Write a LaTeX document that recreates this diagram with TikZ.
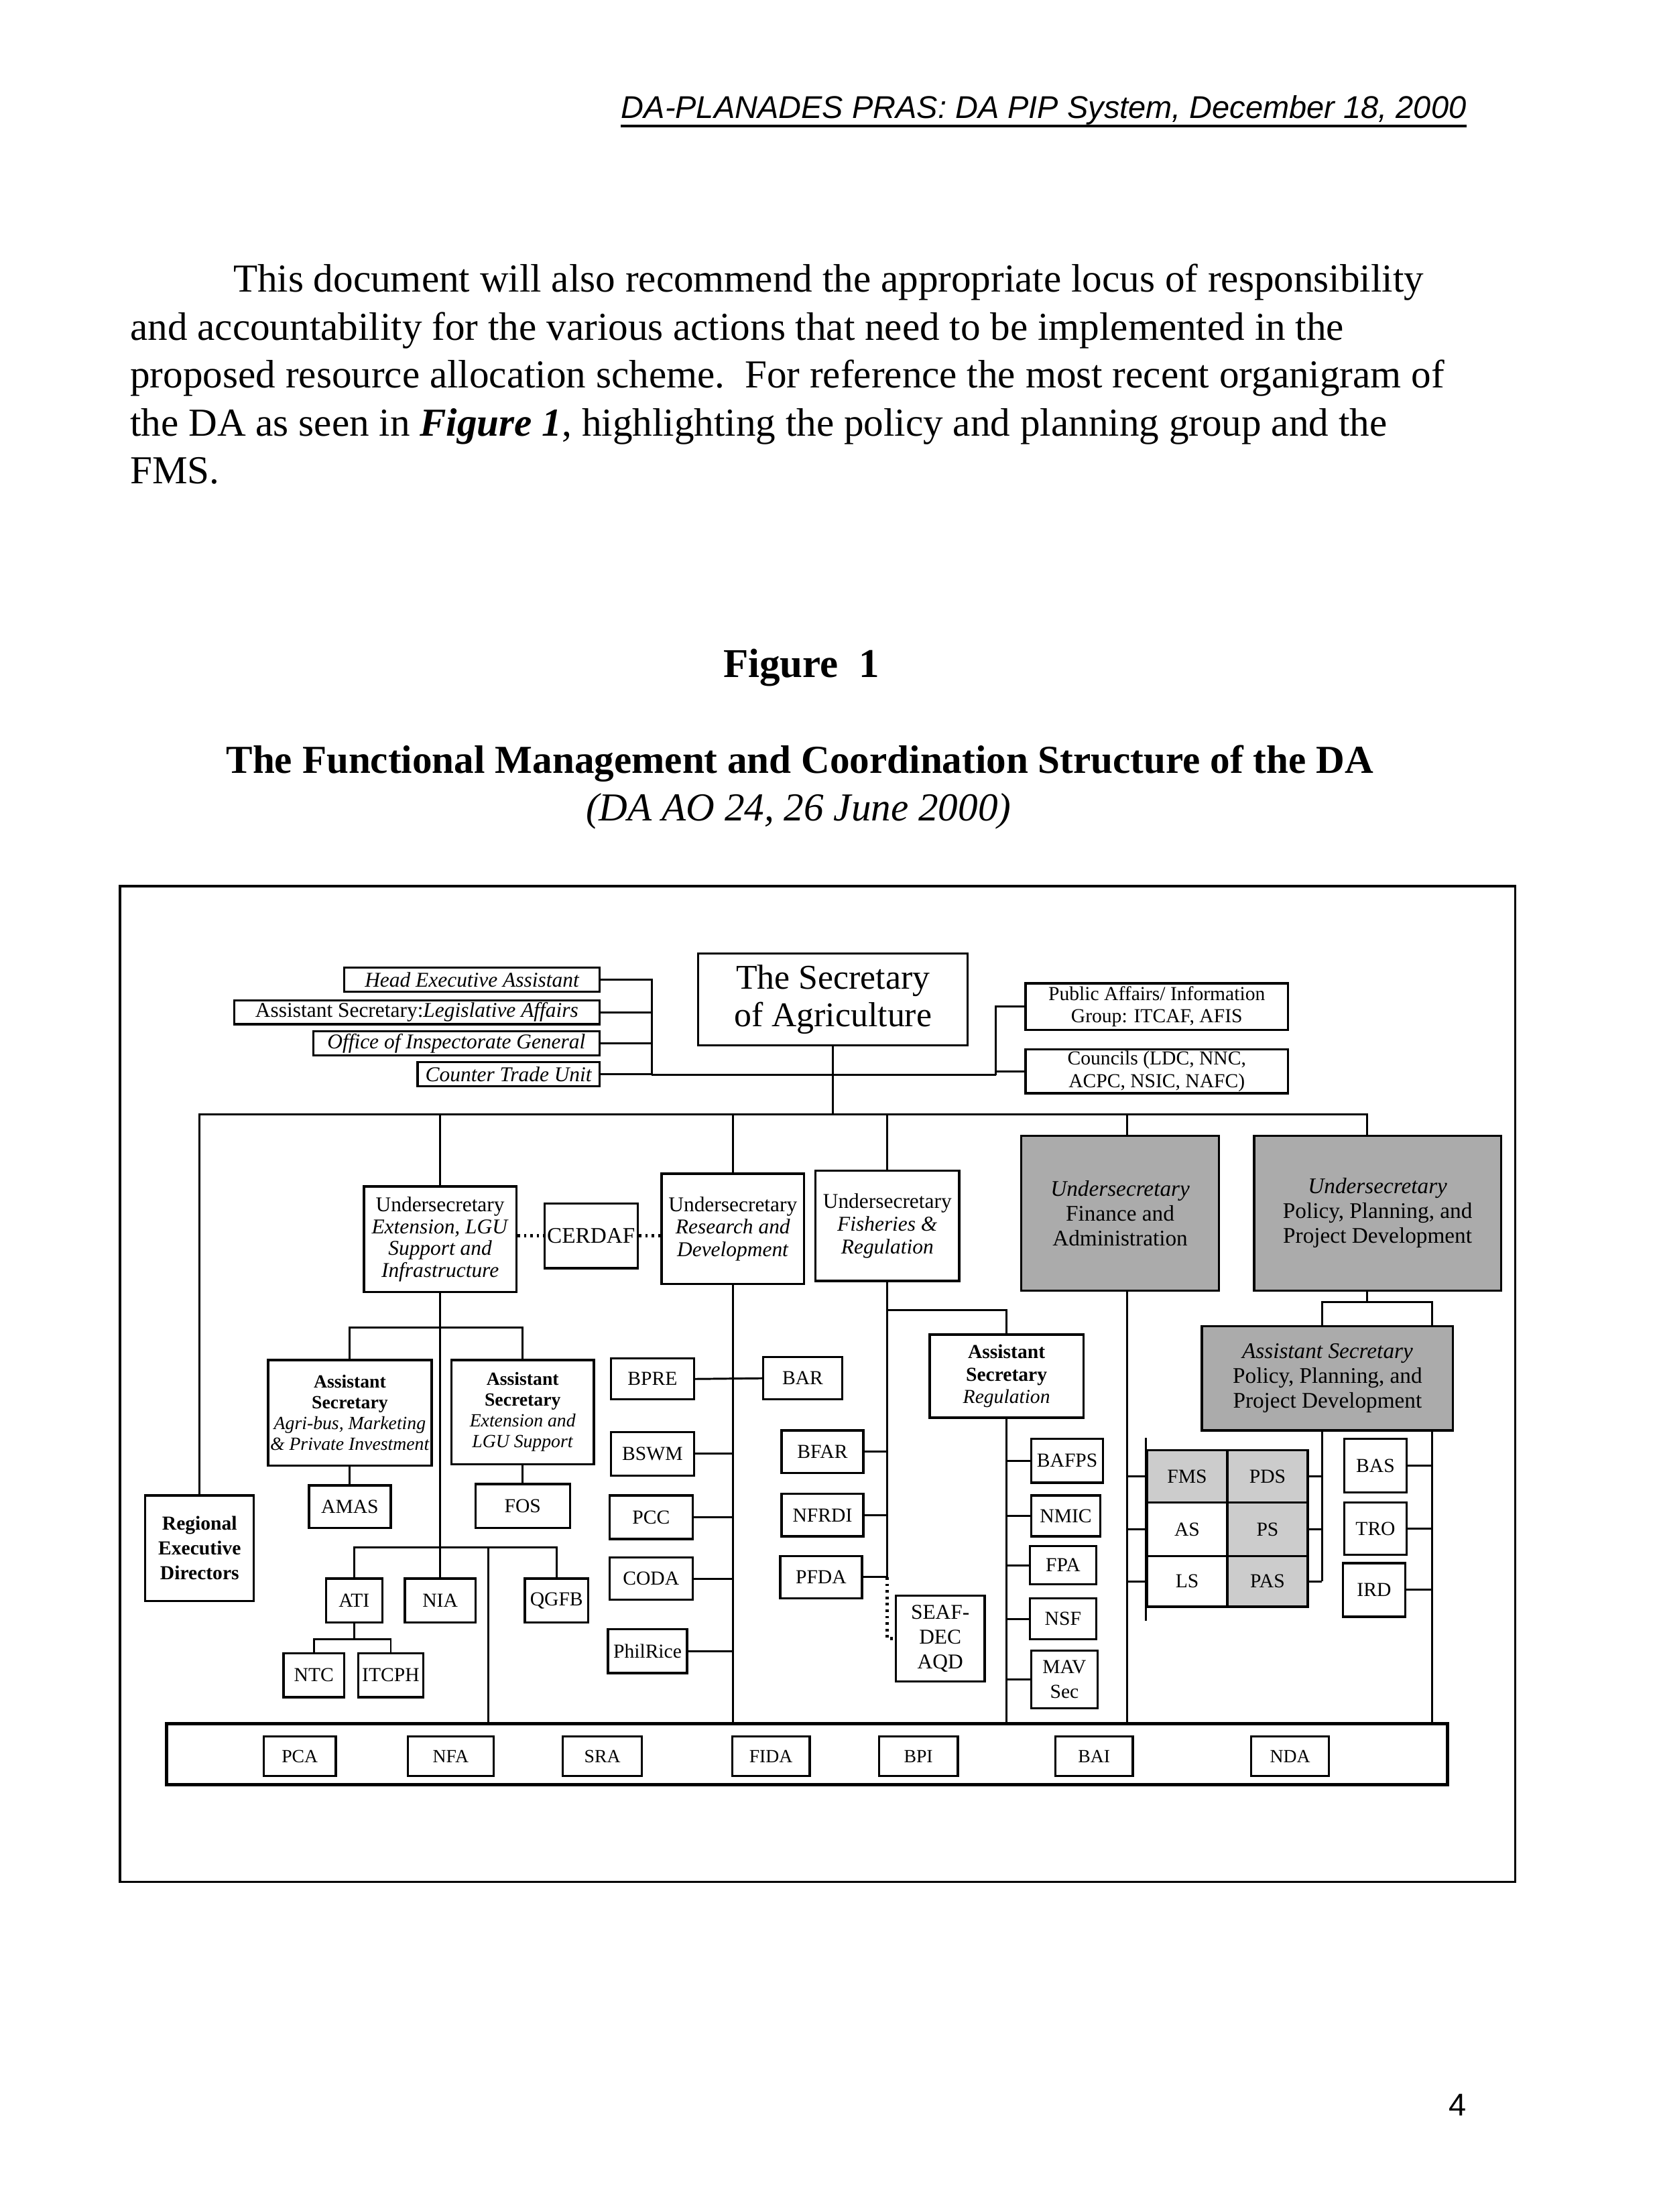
\documentclass[tikz,border=0pt]{standalone}
\usepackage{fontspec}
\setmainfont{Liberation Serif}
\newfontfamily\arialfont{Liberation Sans}
\tikzset{
  box/.style={draw, line width=0.9pt, inner sep=0.3pt, align=center, font=\fontsize{8}{9}\selectfont},
  shadeA/.style={fill=black!33},
  shadeB/.style={fill=black!20},
  ln/.style={line width=0.8pt},
  dotln/.style={line width=1.4pt, dash pattern=on 1pt off 1.6pt},
  para/.style={anchor=base west, inner sep=0pt, font=\fontsize{16}{19}\selectfont},
}
\newcommand\orgbox[7]{%
  \pgfmathsetmacro\obw{(#5-#3)*0.02}%
  \pgfmathsetmacro\obh{(#6-#4)*0.02}%
  \node[box,#1,minimum width=\obw cm,minimum height=\obh cm] (#2) at ({(#3+#5)/2},{(#4+#6)/2}) {#7};}
\begin{document}
\begin{tikzpicture}[x=0.02cm,y=-0.02cm]
\useasboundingbox (0,0) rectangle (1176,1568);
\fill[white] (0,0) rectangle (1176,1568);

% header and text
\node[anchor=base west, inner sep=0pt, font=\arialfont\itshape\fontsize{12.7}{15}\selectfont] (hdr) at (440,84) {DA-PLANADES PRAS: DA PIP System, December 18, 2000};
\draw[line width=1.1pt] ([yshift=-0.11cm]hdr.base west) -- ([yshift=-0.11cm]hdr.base east);
\node[para] (p1) at (165,207) {This document will also recommend the appropriate locus of responsibility};
\node[para] (p2) at (92,241) {and accountability for the various actions that need to be implemented in the};
\node[para] (p3) at (92,275) {proposed resource allocation scheme.\ \ For reference the most recent organigram of};
\node[para] (p4) at (92,309) {the DA as seen in \textbf{\textit{Figure 1}}, highlighting the policy and planning group and the};
\node[para] (p5) at (92,343) {FMS.};
\node[anchor=base, inner sep=0pt, font=\bfseries\fontsize{16.5}{19}\selectfont] (fig) at (568,480) {Figure\ \ 1};
\node[anchor=base, inner sep=0pt, font=\bfseries\fontsize{16}{19}\selectfont] (title) at (567,548) {The Functional Management and Coordination Structure of the DA};
\node[anchor=base, inner sep=0pt, font=\itshape\fontsize{16}{19}\selectfont] (sub) at (566,582) {(DA AO 24, 26 June 2000)};
\node[anchor=base, inner sep=0pt, font=\arialfont\fontsize{12.7}{15}\selectfont] (pg) at (1033,1500) {4};

% frame
\draw[line width=1pt] (85,628) rectangle (1074,1334);

% top cluster
\orgbox{font=\itshape\fontsize{8.5}{9}\selectfont}{hea}{244}{686}{425}{703}{Head Executive Assistant}
\orgbox{font=\fontsize{8.5}{9}\selectfont}{asla}{166}{709}{425}{726}{Assistant Secretary:\textit{Legislative Affairs}}
\orgbox{font=\itshape\fontsize{8.5}{9}\selectfont}{oig}{222}{731}{425}{748}{Office of Inspectorate General}
\orgbox{font=\itshape\fontsize{8.5}{9}\selectfont}{ctu}{296}{753}{425}{770}{Counter Trade Unit}
\orgbox{font=\fontsize{14}{15}\selectfont}{sec}{495}{676}{686}{741}{The Secretary\\of Agriculture}
\orgbox{font=\fontsize{8}{9}\selectfont}{pai}{727}{697}{913}{730}{Public Affairs/ Information\\Group: ITCAF, AFIS}
\orgbox{font=\fontsize{8}{9}\selectfont}{cou}{727}{744}{913}{775}{Councils (LDC, NNC,\\ACPC, NSIC, NAFC)}

% undersecretaries
\orgbox{font=\bfseries\fontsize{8}{10}\selectfont}{red}{103}{1060}{180}{1135}{Regional\\Executive\\Directors}
\orgbox{font=\fontsize{8.5}{8.9}\selectfont}{usecext}{258}{841}{366}{916}{Undersecretary\\\textit{Extension, LGU}\\\textit{Support and}\\\textit{Infrastructure}}
\orgbox{font=\fontsize{9}{9}\selectfont}{cerdaf}{386}{853}{452}{899}{CERDAF}
\orgbox{font=\fontsize{8.5}{9.1}\selectfont}{usecrd}{469}{832}{570}{910}{Undersecretary\\\textit{Research and}\\\textit{Development}}
\orgbox{font=\fontsize{8.5}{9.1}\selectfont}{usecfr}{578}{830}{680}{908}{Undersecretary\\\textit{Fisheries \&}\\\textit{Regulation}}
\orgbox{shadeA,font=\fontsize{9}{10}\selectfont}{usecfa}{724}{805}{864}{915}{\textit{Undersecretary}\\Finance and\\Administration}
\orgbox{shadeA,font=\fontsize{9}{10}\selectfont}{usecpp}{889}{805}{1064}{915}{\textit{Undersecretary}\\Policy, Planning, and\\Project Development}

% extension branch
\orgbox{font=\fontsize{7.5}{8.4}\selectfont}{asab}{190}{964}{306}{1039}{\textbf{Assistant}\\\textbf{Secretary}\\\textit{Agri-bus, Marketing}\\\textit{\& Private Investment}}
\orgbox{font=\fontsize{7.5}{8.4}\selectfont}{aselgu}{320}{964}{421}{1038}{\textbf{Assistant}\\\textbf{Secretary}\\\textit{Extension and}\\\textit{LGU Support}}
\orgbox{}{amas}{219}{1053}{277}{1083}{AMAS}
\orgbox{}{fos}{337}{1052}{404}{1083}{FOS}
\orgbox{}{ati}{231}{1119}{271}{1150}{ATI}
\orgbox{}{nia}{287}{1119}{337}{1150}{NIA}
\orgbox{}{qgfb}{372}{1119}{417}{1150}{QGFB}
\orgbox{}{ntc}{201}{1172}{244}{1203}{NTC}
\orgbox{}{itcph}{254}{1172}{300}{1203}{ITCPH}

% research branch
\orgbox{}{bpre}{433}{963}{492}{992}{BPRE}
\orgbox{}{bswm}{433}{1015}{492}{1046}{BSWM}
\orgbox{}{pcc}{432}{1060}{491}{1091}{PCC}
\orgbox{}{coda}{432}{1104}{491}{1134}{CODA}
\orgbox{}{philrice}{431}{1155}{487}{1186}{PhilRice}
\orgbox{}{bar}{541}{962}{597}{992}{BAR}

% fisheries branch
\orgbox{}{bfar}{554}{1014}{612}{1044}{BFAR}
\orgbox{}{nfrdi}{554}{1059}{612}{1089}{NFRDI}
\orgbox{}{pfda}{553}{1103}{611}{1133}{PFDA}
\orgbox{font=\fontsize{8.5}{10}\selectfont}{seafdec}{635}{1131}{698}{1192}{SEAF-\\DEC\\AQD}
\orgbox{font=\fontsize{8}{9.1}\selectfont}{asreg}{659}{946}{768}{1005}{\textbf{Assistant}\\\textbf{Secretary}\\\textit{Regulation}}
\orgbox{}{bafps}{731}{1020}{782}{1051}{BAFPS}
\orgbox{}{nmic}{731}{1060}{780}{1089}{NMIC}
\orgbox{}{fpa}{730}{1096}{777}{1123}{FPA}
\orgbox{}{nsf}{730}{1133}{777}{1162}{NSF}
\orgbox{font=\fontsize{8}{10}\selectfont}{mav}{731}{1170}{778}{1211}{MAV\\Sec}

% finance / policy grid
\orgbox{shadeB}{fms}{813}{1028}{870}{1065}{FMS}
\orgbox{shadeB}{pds}{870}{1028}{927}{1065}{PDS}
\orgbox{}{ascell}{813}{1065}{870}{1103}{AS}
\orgbox{shadeB}{ps}{870}{1065}{927}{1103}{PS}
\orgbox{}{ls}{813}{1103}{870}{1139}{LS}
\orgbox{shadeB}{pas}{870}{1103}{927}{1139}{PAS}
\draw[line width=0.9pt] ([yshift=0.16cm]fms.north west) -- ([yshift=-0.18cm]ls.south west);
\orgbox{shadeA,font=\fontsize{9}{10}\selectfont}{aspp}{852}{940}{1030}{1014}{\textit{Assistant Secretary}\\Policy, Planning, and\\Project Development}
\orgbox{}{bas}{953}{1020}{997}{1058}{BAS}
\orgbox{}{tro}{953}{1065}{997}{1102}{TRO}
\orgbox{}{ird}{952}{1108}{996}{1146}{IRD}

% attached agencies
\orgbox{line width=1.3pt}{agencies}{118}{1222}{1026}{1265}{}
\orgbox{font=\fontsize{7.5}{9}\selectfont}{pca}{187}{1231}{238}{1259}{PCA}
\orgbox{font=\fontsize{7.5}{9}\selectfont}{nfa}{289}{1231}{350}{1259}{NFA}
\orgbox{font=\fontsize{7.5}{9}\selectfont}{sra}{399}{1231}{455}{1259}{SRA}
\orgbox{font=\fontsize{7.5}{9}\selectfont}{fida}{519}{1231}{574}{1259}{FIDA}
\orgbox{font=\fontsize{7.5}{9}\selectfont}{bpi}{623}{1231}{679}{1259}{BPI}
\orgbox{font=\fontsize{7.5}{9}\selectfont}{bai}{748}{1231}{803}{1259}{BAI}
\orgbox{font=\fontsize{7.5}{9}\selectfont}{nda}{887}{1231}{942}{1259}{NDA}

% ---------- connectors ----------
\coordinate (lb) at (462,762);
\coordinate (rb) at (706,762);
\coordinate (mbr) at (969,790);
\coordinate (fax) at (799,790);
\coordinate (pl) at (937,923);
\coordinate (pr) at (1015,923);
\coordinate (ab) at (312,941);
\coordinate (tb) at (312,1097);
\coordinate (tb2) at (346,1097);

\draw[ln] (hea.east) -- (hea.east -| lb) -- (lb);
\draw[ln] (asla.east) -- (asla.east -| lb);
\draw[ln] (oig.east) -- (oig.east -| lb);
\draw[ln] (ctu.east) -- (ctu.east -| lb);
\draw[ln] (lb) -- (rb);
\draw[ln] (rb) |- (pai.west);
\draw[ln] (cou.west) -- (cou.west -| rb);
\draw[ln] (sec.south) -- (sec.south |- mbr);

% main bar and drops
\draw[ln] (red.north) |- (mbr) -- (mbr |- usecpp.north);
\draw[ln] (usecext.north) -- (usecext.north |- mbr);
\draw[ln] (usecrd.north) -- (usecrd.north |- mbr);
\draw[ln] (usecfr.north) -- (usecfr.north |- mbr);
\draw[ln] (fax) -- (fax |- usecfa.north);
\draw[dotln] (cerdaf.west -| usecext.east) -- (cerdaf.west);
\draw[dotln] (cerdaf.east) -- (cerdaf.east -| usecrd.west);

% extension branch
\draw[ln] (usecext.south) -- (nia.north);
\draw[ln] (asab.north) |- (ab) -| (aselgu.north);
\draw[ln] (asab.south) -- (amas.north);
\draw[ln] (aselgu.south) -- (fos.north);
\draw[ln] (ati.north) |- (tb) -| (qgfb.north);
\draw[ln] (tb2) -- (tb2 |- agencies.north);
\draw[ln] (ati.south) -- ++(0,11) coordinate (nb);
\draw[ln] (ntc.north) |- (nb) -| (itcph.north);

% research branch
\draw[ln] (usecrd.south) -- (usecrd.south |- agencies.north);
\draw[ln] (bpre.east) -- (bar.west);
\draw[ln] (bswm.east) -- (bswm.east -| usecrd.south);
\draw[ln] (pcc.east) -- (pcc.east -| usecrd.south);
\draw[ln] (coda.east) -- (coda.east -| usecrd.south);
\draw[ln] (philrice.east) -- (philrice.east -| usecrd.south);

% fisheries branch
\draw[ln] (usecfr.south) -- (usecfr.south |- pfda.east) -- (pfda.east);
\draw[ln] (bfar.east) -- (bfar.east -| usecfr.south);
\draw[ln] (nfrdi.east) -- (nfrdi.east -| usecfr.south);
\draw[dotln] (usecfr.south |- pfda.east) -- (usecfr.south |- seafdec.west) -- (seafdec.west);
\path (usecfr.south) ++(0,20) coordinate (fj);
\draw[ln] (fj) -| (asreg.north);
\draw[ln] (asreg.south) -- (asreg.south |- agencies.north);
\draw[ln] (bafps.west) -- (bafps.west -| asreg.south);
\draw[ln] (nmic.west) -- (nmic.west -| asreg.south);
\draw[ln] (fpa.west) -- (fpa.west -| asreg.south);
\draw[ln] (nsf.west) -- (nsf.west -| asreg.south);
\draw[ln] (mav.west) -- (mav.west -| asreg.south);

% finance branch
\draw[ln] (fax |- usecfa.south) -- (fax |- agencies.north);
\draw[ln] (fms.west) -- (fms.west -| fax);
\draw[ln] (ascell.west) -- (ascell.west -| fax);
\draw[ln] (ls.west) -- (ls.west -| fax);

% policy branch
\draw[ln] (mbr |- usecpp.south) -- (mbr |- pl);
\draw[ln] (pl |- aspp.north) -- (pl) -- (pr) -- (pr |- aspp.north);
\draw[ln] (pl |- aspp.south) -- (pl |- pas.east);
\draw[ln] (pds.east) -- (pds.east -| pl);
\draw[ln] (ps.east) -- (ps.east -| pl);
\draw[ln] (pas.east) -- (pas.east -| pl);
\draw[ln] (pr |- aspp.south) -- (pr |- agencies.north);
\draw[ln] (bas.east) -- (bas.east -| pr);
\draw[ln] (tro.east) -- (tro.east -| pr);
\draw[ln] (ird.east) -- (ird.east -| pr);
\end{tikzpicture}
\end{document}
